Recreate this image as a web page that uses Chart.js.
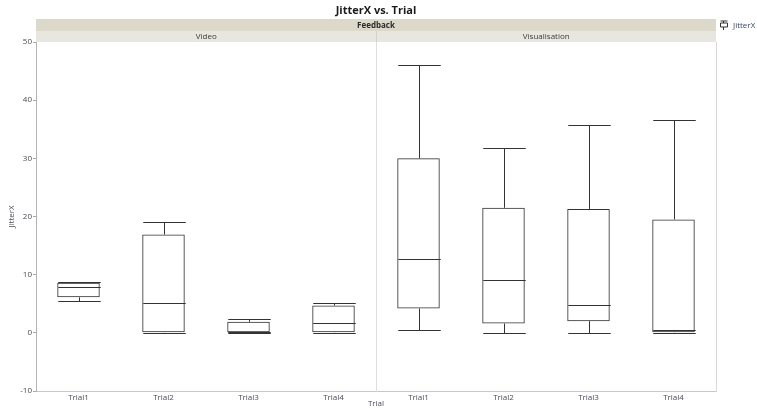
<!DOCTYPE html>
<html>
<head>
<meta charset="utf-8">
<script src="https://cdn.jsdelivr.net/npm/chart.js@4/dist/chart.umd.min.js"></script>
<style>
  html, body { margin: 0; padding: 0; background: #ffffff; }
  #wrap { width: 757px; height: 409px; position: relative; }
</style>
</head>
<body>
<div id="wrap"><canvas id="c" width="757" height="409"></canvas></div>
<script>
// Panels (Feedback levels) and trials within each panel
const feedbackGroups = ["Video", "Visualisation"];
const trials = ["Trial1", "Trial2", "Trial3", "Trial4"];

// Five-number summaries of JitterX per trial
const videoMin    = [5.5, 0.0, 0.0, 0.0];
const videoQ1     = [6.1, 0.0, 0.0, 0.0];
const videoMedian = [7.8, 5.1, 0.2, 1.75];
const videoQ3     = [8.6, 16.9, 1.9, 4.7];
const videoMax    = [8.7, 19.0, 2.4, 5.1];

const visMin    = [0.5, 0.0, 0.0, 0.0];
const visQ1     = [4.2, 1.6, 2.0, 0.0];
const visMedian = [12.7, 9.1, 4.7, 0.5];
const visQ3     = [30.0, 21.5, 21.3, 19.5];
const visMax    = [46.0, 31.8, 35.8, 36.6];

const yTicks = [-10, 0, 10, 20, 30, 40, 50];

// Combined category axis: the two panels side by side
const labels = feedbackGroups.flatMap(() => trials);
const allMin = videoMin.concat(visMin);
const allQ1 = videoQ1.concat(visQ1);
const allMed = videoMedian.concat(visMedian);
const allQ3 = videoQ3.concat(visQ3);
const allMax = videoMax.concat(visMax);
const boxes = allQ1.map((q, i) => [q, allQ3[i]]);

const FONT = '"Open Sans", "DejaVu Sans", sans-serif';
const LINE = '#333333';

// Whiskers, caps and medians drawn from the bar elements and the y scale
const boxPlotExtras = {
  id: 'boxPlotExtras',
  afterDatasetsDraw(chart) {
    const ctx = chart.ctx;
    const y = chart.scales.y;
    const meta = chart.getDatasetMeta(0);
    ctx.save();
    ctx.strokeStyle = LINE;
    ctx.lineWidth = 1;
    meta.data.forEach((bar, i) => {
      const x = Math.round(bar.x) + 0.5;
      const half = bar.width / 2;
      const yMin = Math.round(y.getPixelForValue(allMin[i])) + 0.5;
      const yMax = Math.round(y.getPixelForValue(allMax[i])) + 0.5;
      const yQ1 = y.getPixelForValue(allQ1[i]);
      const yQ3 = y.getPixelForValue(allQ3[i]);
      const yMed = Math.round(y.getPixelForValue(allMed[i])) + 0.5;
      ctx.beginPath();
      // upper whisker
      ctx.moveTo(x, yQ3); ctx.lineTo(x, yMax);
      // lower whisker
      ctx.moveTo(x, yQ1); ctx.lineTo(x, yMin);
      // caps
      ctx.moveTo(x - half, yMax); ctx.lineTo(x + half, yMax);
      ctx.moveTo(x - half, yMin); ctx.lineTo(x + half, yMin);
      // median
      ctx.moveTo(x - half, yMed); ctx.lineTo(x + half, yMed);
      ctx.stroke();
    });
    ctx.restore();
  }
};

// Title, facet strips, panel divider, frame and legend
const frame = {
  id: 'frame',
  beforeDatasetsDraw(chart) {
    const { ctx, chartArea: a } = chart;
    const xs = chart.scales.x;
    const nPer = trials.length;
    ctx.save();
    // panel divider inside plot
    const divX = Math.round((xs.getPixelForValue(nPer - 1) + xs.getPixelForValue(nPer)) / 2) + 0.5;
    ctx.strokeStyle = '#dedede';
    ctx.lineWidth = 1;
    ctx.beginPath();
    ctx.moveTo(divX, a.top); ctx.lineTo(divX, a.bottom);
    ctx.stroke();
    ctx.restore();
  },
  afterDraw(chart) {
    const { ctx, chartArea: a } = chart;
    const xs = chart.scales.x;
    const nPer = trials.length;
    const divX = Math.round((xs.getPixelForValue(nPer - 1) + xs.getPixelForValue(nPer)) / 2) + 0.5;
    ctx.save();
    // right frame line
    ctx.strokeStyle = '#d8d8d8';
    ctx.lineWidth = 1;
    ctx.beginPath();
    ctx.moveTo(Math.round(a.right) + 0.5, a.top);
    ctx.lineTo(Math.round(a.right) + 0.5, a.bottom + 1);
    ctx.stroke();

    // title
    ctx.fillStyle = '#1a1a1a';
    ctx.font = 'bold 11px ' + FONT;
    ctx.textAlign = 'center';
    ctx.textBaseline = 'middle';
    ctx.fillText('JitterX vs. Trial', (a.left + a.right) / 2, 11);

    // outer strip
    const s1Top = 19, s1Bot = 31, s2Bot = a.top;
    ctx.fillStyle = '#dcd9cb';
    ctx.fillRect(a.left, s1Top, a.right - a.left, s1Bot - s1Top);
    ctx.fillStyle = '#e8e7df';
    ctx.fillRect(a.left, s1Bot, a.right - a.left, s2Bot - s1Bot);
    ctx.fillStyle = '#2a2a2a';
    ctx.font = 'bold 8px ' + FONT;
    ctx.fillText('Feedback', (a.left + a.right) / 2, (s1Top + s1Bot) / 2 + 0.5);

    // inner strips
    ctx.strokeStyle = '#d4d3cb';
    ctx.beginPath();
    ctx.moveTo(divX, s1Bot); ctx.lineTo(divX, s2Bot);
    ctx.stroke();
    ctx.fillStyle = '#3a3a3a';
    ctx.font = '8px ' + FONT;
    ctx.fillText(feedbackGroups[0], (a.left + divX) / 2, (s1Bot + s2Bot) / 2 + 0.5);
    ctx.fillText(feedbackGroups[1], (divX + a.right) / 2, (s1Bot + s2Bot) / 2 + 0.5);

    // legend
    const lx = 724, ly = 25.5;
    ctx.strokeStyle = '#333';
    ctx.beginPath();
    ctx.rect(lx - 3.5, ly - 2.5, 7, 4);
    ctx.moveTo(lx - 0.5, ly + 1.5); ctx.lineTo(lx - 0.5, ly + 4.5);
    ctx.moveTo(lx - 0.5, ly - 2.5); ctx.lineTo(lx - 0.5, ly - 4.5);
    ctx.moveTo(lx - 3.5, ly - 4.5); ctx.lineTo(lx + 3.5, ly - 4.5);
    ctx.stroke();
    ctx.fillStyle = '#34466a';
    ctx.textAlign = 'left';
    ctx.font = '8px ' + FONT;
    ctx.fillText('JitterX', 733, ly);
    ctx.restore();
  }
};

new Chart(document.getElementById('c'), {
  type: 'bar',
  data: {
    labels: labels,
    datasets: [{
      label: 'JitterX',
      data: boxes,
      backgroundColor: 'rgba(255,255,255,0)',
      borderColor: LINE,
      borderWidth: 1,
      borderSkipped: false,
      barPercentage: 0.5,
      categoryPercentage: 1.0
    }]
  },
  options: {
    responsive: false,
    animation: false,
    layout: { padding: { top: 42, right: 41, left: 0, bottom: 0 } },
    plugins: {
      legend: { display: false },
      tooltip: { enabled: false },
      title: { display: false }
    },
    scales: {
      x: {
        type: 'category',
        offset: true,
        grid: { display: false, drawTicks: false },
        border: { display: true, color: '#c8c8c8' },
        ticks: {
          color: '#4a4a5a',
          font: { size: 8, family: FONT },
          padding: 2,
          maxRotation: 0,
          autoSkip: false
        },
        title: {
          display: true,
          text: 'Trial',
          color: '#4a4a5a',
          font: { size: 8, family: FONT },
          padding: { top: 0, bottom: 0 }
        },
        afterFit(scale) { scale.height = 18; }
      },
      y: {
        min: -10,
        max: 50,
        afterBuildTicks(scale) { scale.ticks = yTicks.map(v => ({ value: v })); },
        grid: { display: true, drawOnChartArea: false, drawTicks: true, tickLength: 3, color: '#a8a8a8' },
        border: { display: true, color: '#b4b4b4' },
        ticks: {
          color: '#4a4a5a',
          font: { size: 8, family: FONT },
          padding: 1
        },
        title: {
          display: true,
          text: 'JitterX',
          color: '#4a4a5a',
          font: { size: 8, family: FONT },
          padding: { top: 7, bottom: 0 }
        },
        afterFit(scale) { scale.width = 36; }
      }
    }
  },
  plugins: [boxPlotExtras, frame]
});
</script>
</body>
</html>
